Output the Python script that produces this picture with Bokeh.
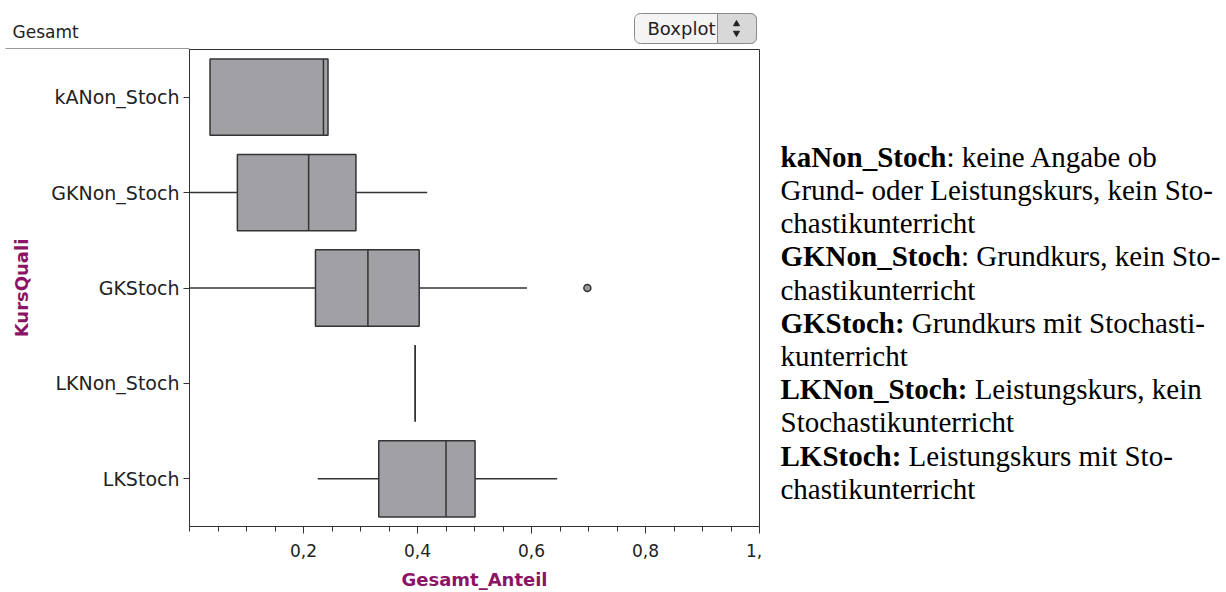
from math import cos, sin, pi
from bokeh.plotting import figure
from bokeh.layouts import column, row
from bokeh.models import FactorRange, Range1d, FixedTicker, ColumnDataSource
from bokeh.core.properties import value
from bokeh.embed import file_html
from bokeh.resources import INLINE

# ---------------- data ----------------
categories = ["kANon_Stoch", "GKNon_Stoch", "GKStoch", "LKNon_Stoch", "LKStoch"]
whisker_low = [0.036, 0.0, 0.0, 0.396, 0.225]
q1 = [0.036, 0.084, 0.221, 0.396, 0.332]
median = [0.235, 0.209, 0.313, 0.396, 0.450]
q3 = [0.243, 0.292, 0.403, 0.396, 0.501]
whisker_high = [0.243, 0.417, 0.592, 0.396, 0.645]
outlier_cat = ["GKStoch"]
outlier_val = [0.698]

x_tick_values = [0.2, 0.4, 0.6, 0.8, 1.0]
x_tick_labels = ["0,2", "0,4", "0,6", "0,8", "1,"]
x_minor_ticks = [0.0, 0.05, 0.1, 0.15, 0.25, 0.3, 0.35, 0.45, 0.5, 0.55,
                 0.65, 0.7, 0.75, 0.85, 0.9, 0.95]

header_text = "Gesamt"
menu_text = "Boxplot"
x_title = "Gesamt_Anteil"
y_title = "KursQuali"

legend_lines = [
    ("kaNon_Stoch", ": keine Angabe ob"),
    ("", "Grund- oder Leistungskurs, kein Sto-"),
    ("", "chastikunterricht"),
    ("GKNon_Stoch", ": Grundkurs, kein Sto-"),
    ("", "chastikunterricht"),
    ("GKStoch:", "Grundkurs mit Stochasti-"),
    ("", "kunterricht"),
    ("LKNon_Stoch:", "Leistungskurs, kein"),
    ("", "Stochastikunterricht"),
    ("LKStoch:", "Leistungskurs mit Sto-"),
    ("", "chastikunterricht"),
]

# ---------------- layout constants (page pixels) ----------------
W, H = 1226, 592
HEAD_H = 49                 # header strip height (frame top line)
FL, FR, FB = 189, 759, 529  # main frame left / right / bottom
MAIN_W = 775
MAIN_H = H - HEAD_H
BOTTOM_BORDER = MAIN_H - (FB - HEAD_H)

AX = "#333333"
TXT = "#222222"
MAG = "#8c1464"
UI = "DejaVu Sans"
SERIF = "Liberation Serif"


def bare(width, height, x0, x1, y0, y1, bottom=0):
    f = figure(width=width, height=height, title=None,
               x_range=Range1d(x0, x1), y_range=Range1d(y0, y1),
               x_axis_location=None, y_axis_location=None,
               output_backend="svg", toolbar_location=None,
               min_border_left=0, min_border_right=0,
               min_border_top=0, min_border_bottom=bottom)
    f.grid.visible = False
    f.outline_line_color = None
    f.background_fill_color = "white"
    f.border_fill_color = "white"
    return f


def rounded(x0, x1, y0, y1, r, tl=True, tr=True, br=True, bl=True):
    # y grows downward here (page coordinates)
    xs, ys = [], []
    n = 6
    corners = [
        (x1 - r, y0 + r, -pi / 2, 0, tr),   # top-right
        (x1 - r, y1 - r, 0, pi / 2, br),    # bottom-right
        (x0 + r, y1 - r, pi / 2, pi, bl),   # bottom-left
        (x0 + r, y0 + r, pi, 1.5 * pi, tl), # top-left
    ]
    sharp = [(x1, y0), (x1, y1), (x0, y1), (x0, y0)]
    for (cx, cy, a0, a1, rnd), (sx, sy) in zip(corners, sharp):
        if rnd:
            for k in range(n + 1):
                a = a0 + (a1 - a0) * k / n
                xs.append(cx + r * cos(a))
                ys.append(cy + r * sin(a))
        else:
            xs.append(sx)
            ys.append(sy)
    return xs, ys


# ---------------- header strip ----------------
head = bare(W, HEAD_H, 0, W, HEAD_H, 0)
head.segment(x0=[5], y0=[HEAD_H], x1=[FL], y1=[HEAD_H],
             line_color=AX, line_width=2)
head.text(x=[12], y=[31], text=[header_text], text_font=value(UI),
          text_font_size="17px", text_color=TXT, text_baseline="alphabetic")
bx, by = rounded(634, 756, 13, 43, 6)
head.patch(bx, by, fill_color="#f4f4f4", line_color="#8a8a8a", line_width=1)
sx, sy = rounded(717, 756, 13, 43, 6, tl=False, bl=False)
head.patch(sx, sy, fill_color="#d8d8d8", line_color="#8a8a8a", line_width=1)
head.text(x=[647], y=[28], text=[menu_text], text_font=value(UI),
          text_font_size="18px", text_color=TXT, text_baseline="middle")
head.scatter(x=[736], y=[23.5], marker="triangle", size=6,
             fill_color="#222222", line_color="#222222")
head.scatter(x=[736], y=[32.5], marker="inverted_triangle", size=6,
             fill_color="#222222", line_color="#222222")

# ---------------- main plot ----------------
p = figure(width=MAIN_W, height=MAIN_H, title=None,
           y_range=FactorRange(factors=categories[::-1]),
           x_range=Range1d(0.0, 1.0),
           output_backend="svg", toolbar_location=None,
           min_border_left=FL, min_border_right=MAIN_W - FR,
           min_border_top=0, min_border_bottom=BOTTOM_BORDER)
p.grid.visible = False
p.outline_line_color = AX
p.outline_line_width = 1
p.background_fill_color = "white"
p.border_fill_color = "white"

ya = p.yaxis[0]
ya.axis_label = y_title
ya.axis_label_text_font = UI
ya.axis_label_text_font_style = "bold"
ya.axis_label_text_font_size = "18px"
ya.axis_label_text_color = MAG
ya.axis_label_standoff = 16
ya.axis_line_color = AX
ya.major_tick_line_color = AX
ya.major_tick_out = 6
ya.major_tick_in = 0
ya.major_label_standoff = 4
ya.major_label_text_font = UI
ya.major_label_text_font_size = "19px"
ya.major_label_text_color = TXT

xa = p.xaxis[0]
xa.ticker = FixedTicker(ticks=x_tick_values, minor_ticks=x_minor_ticks)
overrides = {}
for v, l in zip(x_tick_values, x_tick_labels):
    overrides[v] = l + "\u00a0\u00a0" if l.endswith(",") else l
xa.major_label_overrides = overrides
xa.axis_label = x_title
xa.axis_label_text_font = UI
xa.axis_label_text_font_style = "bold"
xa.axis_label_text_font_size = "18px"
xa.axis_label_text_color = MAG
xa.axis_label_standoff = 5
xa.axis_line_color = AX
xa.major_tick_line_color = AX
xa.minor_tick_line_color = AX
xa.major_tick_out = 7
xa.major_tick_in = 0
xa.minor_tick_out = 5
xa.minor_tick_in = 0
xa.major_label_standoff = 7
xa.major_label_text_font = UI
xa.major_label_text_font_size = "17px"
xa.major_label_text_color = TXT

src = ColumnDataSource(dict(cat=categories, lo=whisker_low, q1=q1, med=median,
                            q3=q3, hi=whisker_high))
p.segment(x0="lo", y0="cat", x1="q1", y1="cat", source=src, line_color=AX, line_width=1.5)
p.segment(x0="q3", y0="cat", x1="hi", y1="cat", source=src, line_color=AX, line_width=1.5)
p.hbar(y="cat", left="q1", right="q3", height=0.8, source=src,
       fill_color="#a0a0a5", line_color=AX, line_width=1.5)
p.hbar(y="cat", left="med", right="med", height=0.8, source=src,
       fill_color=None, line_color=AX, line_width=1.5)
p.scatter(x=outlier_val, y=outlier_cat, size=7, marker="circle",
          fill_color="#9a9a9a", line_color=AX, line_width=1.5)

# ---------------- explanatory text ----------------
# side panel frame is aligned with the main frame: page y 49..529
side = bare(W - MAIN_W, MAIN_H, MAIN_W, W, FB, HEAD_H, bottom=BOTTOM_BORDER)
FS = 29
bold_w = {"a": 500, "c": 444, "h": 556, "k": 556, "n": 556, "o": 500, "t": 333,
          "_": 500, ":": 333, "G": 778, "K": 778, "L": 667, "N": 722, "S": 556}
TX = 780
BASE0 = 157
PITCH = 33.4
bx_, by_, bt_, rx_, ry_, rt_ = [], [], [], [], [], []
for i, (b, r) in enumerate(legend_lines):
    yb = BASE0 + PITCH * i
    x = TX
    if b:
        bx_.append(x); by_.append(yb); bt_.append(b)
        x += sum(bold_w[c] for c in b) * FS / 1000
        if not r.startswith(":"):
            x += 250 * FS / 1000
    rx_.append(x); ry_.append(yb); rt_.append(r)

side.text(x=bx_, y=by_, text=bt_, text_font=value(SERIF), text_font_style="bold",
          text_font_size=f"{FS}px", text_color="black", text_baseline="alphabetic")
side.text(x=rx_, y=ry_, text=rt_, text_font=value(SERIF), text_font_style="normal",
          text_font_size=f"{FS}px", text_color="black", text_baseline="alphabetic")

layout = column(head, row(p, side, spacing=0), spacing=0)
open("out.html", "w").write(file_html(layout, INLINE))
